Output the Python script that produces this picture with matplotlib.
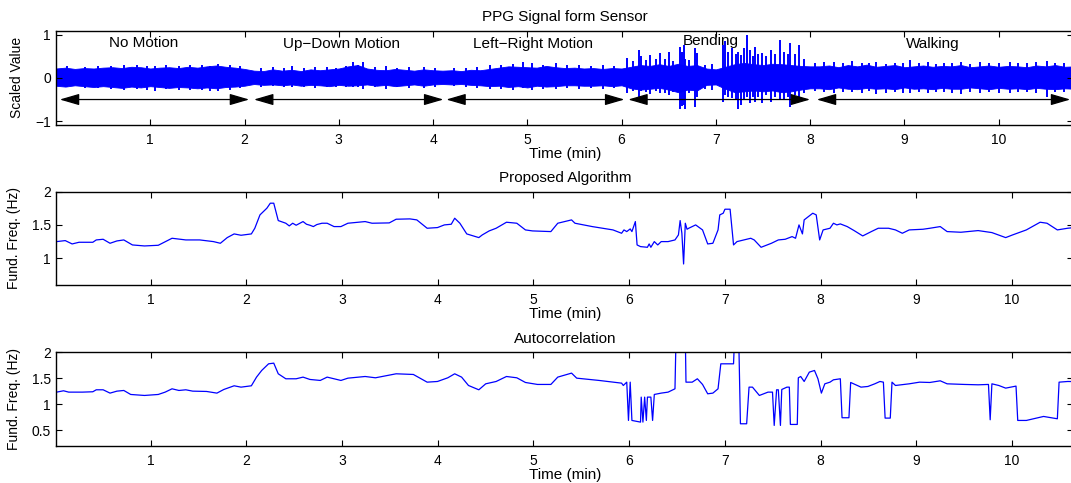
import numpy as np
import matplotlib
matplotlib.use("Agg")
import matplotlib.pyplot as plt
from matplotlib.ticker import FuncFormatter

plt.rcParams["font.family"] = ["Liberation Sans", "DejaVu Sans"]

LINE_BLUE = "#0000ff"

# ---- PPG raw signal: envelope read every 0.1 min (0.0 .. 10.8) ----
ppg_env_t = np.round(np.arange(0, 10.81, 0.1), 2)
ppg_hi = [0.22, 0.24, 0.21, 0.23, 0.22, 0.24, 0.25, 0.23, 0.26, 0.25, 0.22, 0.24, 0.25, 0.23, 0.26, 0.24, 0.27, 0.29, 0.26, 0.24, 0.21,
          0.17, 0.16, 0.20, 0.17, 0.19, 0.16, 0.20, 0.18, 0.20, 0.22, 0.27, 0.30, 0.22, 0.19, 0.18, 0.21, 0.19, 0.17, 0.20, 0.18,
          0.17, 0.18, 0.16, 0.19, 0.18, 0.21, 0.24, 0.27, 0.26, 0.25, 0.24, 0.28, 0.25, 0.23, 0.24, 0.22, 0.23, 0.21, 0.23, 0.22,
          0.26, 0.30, 0.28, 0.32, 0.28, 0.33, 0.28, 0.30, 0.22, 0.20, 0.26, 0.32, 0.35, 0.32, 0.30, 0.33, 0.32, 0.30, 0.28, 0.27,
          0.27, 0.29, 0.25, 0.30, 0.27, 0.31, 0.26, 0.28, 0.30, 0.25, 0.27, 0.29, 0.26, 0.28, 0.27, 0.30, 0.25, 0.27, 0.29, 0.26,
          0.28, 0.27, 0.25, 0.29, 0.27, 0.30, 0.26, 0.27]
ppg_lo = [-0.18, -0.20, -0.17, -0.19, -0.21, -0.19, -0.21, -0.23, -0.20, -0.22, -0.19, -0.21, -0.23, -0.21, -0.22, -0.24, -0.22, -0.24, -0.21, -0.20, -0.18,
          -0.14, -0.16, -0.15, -0.17, -0.15, -0.18, -0.16, -0.17, -0.19, -0.16, -0.18, -0.17, -0.15, -0.18, -0.16, -0.19, -0.17, -0.15, -0.18, -0.15,
          -0.14, -0.15, -0.14, -0.16, -0.17, -0.19, -0.18, -0.21, -0.19, -0.22, -0.18, -0.20, -0.19, -0.17, -0.17, -0.18, -0.18, -0.17, -0.19, -0.17,
          -0.24, -0.27, -0.25, -0.23, -0.27, -0.33, -0.27, -0.29, -0.16, -0.15, -0.25, -0.33, -0.31, -0.29, -0.31, -0.29, -0.33, -0.31, -0.27, -0.24,
          -0.24, -0.26, -0.22, -0.25, -0.26, -0.23, -0.25, -0.24, -0.26, -0.22, -0.25, -0.24, -0.26, -0.23, -0.25, -0.25, -0.22, -0.24, -0.26, -0.23,
          -0.25, -0.24, -0.26, -0.23, -0.25, -0.26, -0.24, -0.25]

# isolated spikes (time, top, bottom)
ppg_spikes = [
    (0.12, 0.27, -0.22), (0.31, 0.26, -0.24), (0.45, 0.28, -0.23), (0.58, 0.27, -0.26), (0.72, 0.30, -0.27),
    (0.86, 0.29, -0.25), (0.97, 0.27, -0.27), (1.05, 0.28, -0.30), (1.17, 0.29, -0.26), (1.30, 0.27, -0.29),
    (1.42, 0.29, -0.27), (1.55, 0.30, -0.28), (1.63, 0.28, -0.30), (1.72, 0.33, -0.30), (1.85, 0.31, -0.27),
    (1.95, 0.27, -0.24), (2.18, 0.22, -0.20), (2.30, 0.25, -0.19), (2.42, 0.23, -0.22), (2.50, 0.27, -0.22),
    (2.63, 0.24, -0.21), (2.75, 0.26, -0.23), (2.88, 0.25, -0.21), (2.97, 0.24, -0.22), (3.08, 0.28, -0.20),
    (3.15, 0.36, -0.22), (3.20, 0.30, -0.20), (3.26, 0.38, -0.25), (3.38, 0.25, -0.22), (3.50, 0.27, -0.25),
    (3.62, 0.24, -0.21), (3.74, 0.25, -0.23), (3.90, 0.26, -0.24), (4.02, 0.23, -0.20), (4.22, 0.23, -0.19),
    (4.35, 0.24, -0.21), (4.47, 0.26, -0.23), (4.60, 0.31, -0.25), (4.72, 0.30, -0.26), (4.85, 0.33, -0.28),
    (4.95, 0.36, -0.24), (5.05, 0.34, -0.27), (5.17, 0.31, -0.25), (5.30, 0.35, -0.26), (5.42, 0.31, -0.24),
    (5.55, 0.30, -0.26), (5.68, 0.28, -0.23), (5.80, 0.29, -0.25), (5.92, 0.27, -0.24),
    (6.06, 0.46, -0.35), (6.12, 0.40, -0.30), (6.18, 0.65, -0.43), (6.21, 0.50, -0.30), (6.26, 0.42, -0.33),
    (6.30, 0.53, -0.38), (6.36, 0.45, -0.30), (6.41, 0.57, -0.35), (6.46, 0.44, -0.36), (6.50, 0.61, -0.40),
    (6.55, 0.40, -0.32), (6.62, 0.73, -0.71), (6.64, 0.60, -0.66), (6.66, 0.77, -0.62), (6.67, 0.45, -0.71),
    (6.72, 0.42, -0.35), (6.78, 0.69, -0.67), (6.80, 0.57, -0.45), (6.88, 0.30, -0.25), (6.96, 0.33, -0.27),
    (7.08, 0.77, -0.55), (7.10, 0.85, -0.40), (7.13, 0.60, -0.45), (7.17, 0.69, -0.47), (7.21, 0.55, -0.50),
    (7.24, 0.61, -0.71), (7.27, 0.53, -0.63), (7.30, 0.70, -0.50), (7.33, 1.00, -0.45), (7.36, 0.65, -0.59),
    (7.39, 0.50, -0.45), (7.42, 0.73, -0.55), (7.45, 0.55, -0.45), (7.49, 0.57, -0.59), (7.53, 0.50, -0.40),
    (7.58, 0.65, -0.55), (7.63, 0.55, -0.45), (7.68, 0.88, -0.51), (7.72, 0.60, -0.50), (7.76, 0.55, -0.45),
    (7.79, 0.81, -0.67), (7.84, 0.55, -0.40), (7.88, 0.77, -0.47), (7.94, 0.45, -0.35),
    (8.05, 0.35, -0.30), (8.15, 0.36, -0.33), (8.25, 0.38, -0.35), (8.35, 0.34, -0.32), (8.44, 0.40, -0.33),
    (8.55, 0.35, -0.34), (8.62, 0.34, -0.31), (8.70, 0.36, -0.38), (8.80, 0.33, -0.34), (8.90, 0.35, -0.32),
    (8.98, 0.34, -0.35), (9.06, 0.42, -0.34), (9.15, 0.34, -0.32), (9.25, 0.37, -0.36), (9.33, 0.33, -0.33),
    (9.42, 0.35, -0.33), (9.50, 0.34, -0.35), (9.60, 0.36, -0.37), (9.70, 0.33, -0.32), (9.80, 0.37, -0.34),
    (9.90, 0.34, -0.33), (10.00, 0.35, -0.35), (10.12, 0.38, -0.36), (10.20, 0.34, -0.32), (10.30, 0.34, -0.33),
    (10.40, 0.36, -0.34), (10.51, 0.40, -0.43), (10.60, 0.35, -0.33), (10.69, 0.35, -0.32),
]

activity_names = ["No Motion", "Up\u2212Down Motion", "Left\u2212Right Motion", "Bending", "Walking"]
activity_label_t = [0.93, 3.03, 5.06, 6.95, 9.30]
activity_label_y = [0.81, 0.78, 0.80, 0.86, 0.78]
activity_start = [0.04, 2.10, 4.14, 6.07, 8.07]
activity_end = [2.05, 4.11, 6.03, 8.00, 10.76]
arrow_level = -0.5

# ---- fundamental frequency, proposed algorithm (time min, Hz) ----
proposed = [
    (0.017, 1.25), (0.107, 1.265), (0.179, 1.215), (0.251, 1.24), (0.395, 1.24), (0.431, 1.275), (0.503, 1.285),
    (0.575, 1.225), (0.647, 1.26), (0.719, 1.275), (0.809, 1.20), (0.935, 1.185), (1.079, 1.195), (1.187, 1.275),
    (1.223, 1.30), (1.367, 1.275), (1.512, 1.275), (1.656, 1.25), (1.728, 1.225), (1.800, 1.31), (1.872, 1.365),
    (1.944, 1.345), (2.052, 1.365), (2.088, 1.45), (2.142, 1.65), (2.214, 1.75), (2.250, 1.825), (2.286, 1.825),
    (2.333, 1.565), (2.412, 1.525), (2.448, 1.485), (2.484, 1.525), (2.520, 1.495), (2.592, 1.55), (2.628, 1.51),
    (2.664, 1.495), (2.700, 1.475), (2.736, 1.505), (2.790, 1.525), (2.844, 1.525), (2.916, 1.475), (2.988, 1.475),
    (3.061, 1.525), (3.241, 1.55), (3.313, 1.525), (3.493, 1.53), (3.565, 1.585), (3.709, 1.59), (3.781, 1.575),
    (3.889, 1.45), (3.997, 1.46), (4.069, 1.50), (4.141, 1.51), (4.177, 1.60), (4.231, 1.525), (4.303, 1.365),
    (4.429, 1.31), (4.465, 1.35), (4.537, 1.41), (4.610, 1.45), (4.718, 1.54), (4.826, 1.525), (4.916, 1.425),
    (4.990, 1.41), (5.182, 1.40), (5.254, 1.525), (5.398, 1.575), (5.434, 1.525), (5.614, 1.475), (5.831, 1.425),
    (5.921, 1.375), (5.946, 1.425), (5.975, 1.40), (6.011, 1.44), (6.029, 1.40), (6.065, 1.55), (6.083, 1.20),
    (6.119, 1.175), (6.191, 1.165), (6.209, 1.215), (6.227, 1.165), (6.263, 1.25), (6.299, 1.20), (6.335, 1.25),
    (6.407, 1.25), (6.479, 1.275), (6.515, 1.35), (6.533, 1.565), (6.551, 1.375), (6.569, 0.915), (6.587, 1.525),
    (6.605, 1.435), (6.623, 1.45), (6.695, 1.50), (6.767, 1.425), (6.821, 1.215), (6.875, 1.225), (6.929, 1.425),
    (6.947, 1.65), (6.983, 1.675), (7.001, 1.735), (7.055, 1.735), (7.091, 1.20), (7.127, 1.25), (7.199, 1.275),
    (7.271, 1.30), (7.307, 1.275), (7.379, 1.165), (7.487, 1.225), (7.559, 1.275), (7.631, 1.285), (7.703, 1.325),
    (7.739, 1.30), (7.775, 1.50), (7.811, 1.365), (7.829, 1.575), (7.919, 1.675), (7.955, 1.65), (7.991, 1.275),
    (8.027, 1.425), (8.099, 1.45), (8.135, 1.525), (8.171, 1.50), (8.207, 1.515), (8.279, 1.475), (8.351, 1.415),
    (8.441, 1.335), (8.531, 1.40), (8.603, 1.45), (8.711, 1.45), (8.783, 1.425), (8.855, 1.375), (8.927, 1.425),
    (9.071, 1.435), (9.143, 1.45), (9.251, 1.475), (9.323, 1.40), (9.467, 1.39), (9.647, 1.415), (9.791, 1.385),
    (9.935, 1.31), (10.007, 1.35), (10.151, 1.425), (10.295, 1.54), (10.367, 1.525), (10.475, 1.425), (10.583, 1.45),
    (10.65, 1.46),
]

# ---- fundamental frequency, autocorrelation (values above 2 Hz run off the axes) ----
autocorr = [
    (0.017, 1.237), (0.089, 1.263), (0.143, 1.237), (0.287, 1.237), (0.395, 1.244), (0.431, 1.282), (0.503, 1.282),
    (0.575, 1.218), (0.647, 1.256), (0.719, 1.269), (0.791, 1.192), (0.935, 1.173), (1.079, 1.192), (1.151, 1.237),
    (1.223, 1.301), (1.295, 1.269), (1.367, 1.282), (1.439, 1.256), (1.584, 1.25), (1.692, 1.218), (1.764, 1.288),
    (1.872, 1.359), (1.944, 1.333), (2.052, 1.359), (2.106, 1.526), (2.160, 1.654), (2.232, 1.782), (2.286, 1.795),
    (2.333, 1.59), (2.412, 1.494), (2.520, 1.494), (2.592, 1.526), (2.664, 1.481), (2.772, 1.462), (2.844, 1.526),
    (2.988, 1.462), (3.061, 1.506), (3.241, 1.538), (3.349, 1.513), (3.565, 1.59), (3.745, 1.577), (3.889, 1.429),
    (3.997, 1.442), (4.105, 1.513), (4.177, 1.59), (4.249, 1.526), (4.321, 1.365), (4.429, 1.282), (4.501, 1.397),
    (4.610, 1.442), (4.718, 1.538), (4.826, 1.513), (4.916, 1.423), (5.042, 1.385), (5.182, 1.385), (5.254, 1.526),
    (5.398, 1.603), (5.452, 1.506), (5.686, 1.462), (5.921, 1.41), (5.939, 1.365), (5.975, 1.429), (5.993, 0.692),
    (6.011, 1.429), (6.029, 0.692), (6.119, 0.66), (6.126, 1.141), (6.144, 0.66), (6.162, 1.141), (6.180, 0.692),
    (6.191, 1.141), (6.227, 1.141), (6.245, 0.692), (6.263, 1.192), (6.335, 1.218), (6.407, 1.237), (6.479, 1.301),
    (6.490, 2.3), (6.587, 2.3), (6.594, 1.429), (6.659, 1.429), (6.713, 1.494), (6.767, 1.385), (6.821, 1.205),
    (6.875, 1.218), (6.929, 1.301), (6.958, 1.782), (7.091, 1.782), (7.102, 2.3), (7.145, 2.3), (7.163, 0.628),
    (7.228, 0.628), (7.253, 1.333), (7.289, 1.333), (7.361, 1.173), (7.451, 1.237), (7.498, 1.237), (7.516, 0.596),
    (7.541, 1.282), (7.559, 1.282), (7.581, 0.596), (7.595, 1.288), (7.649, 1.333), (7.674, 1.333), (7.685, 0.615),
    (7.757, 0.615), (7.768, 1.513), (7.793, 1.538), (7.829, 1.442), (7.883, 1.622), (7.937, 1.654), (7.973, 1.494),
    (8.009, 1.218), (8.045, 1.397), (8.099, 1.429), (8.135, 1.474), (8.207, 1.494), (8.225, 0.744), (8.297, 0.744),
    (8.315, 1.423), (8.423, 1.333), (8.495, 1.346), (8.567, 1.397), (8.621, 1.442), (8.657, 1.429), (8.675, 0.737),
    (8.729, 0.737), (8.747, 1.429), (8.783, 1.365), (8.927, 1.397), (9.035, 1.429), (9.143, 1.423), (9.251, 1.455),
    (9.323, 1.397), (9.503, 1.385), (9.647, 1.378), (9.755, 1.385), (9.773, 0.705), (9.791, 1.397), (9.863, 1.365),
    (9.935, 1.314), (10.043, 1.353), (10.061, 0.692), (10.151, 0.692), (10.331, 0.769), (10.475, 0.724), (10.493, 1.429),
    (10.583, 1.442), (10.65, 1.44),
]

time_ticks = [1, 2, 3, 4, 5, 6, 7, 8, 9, 10]

# MATLAB-style tick text: "1.5", "2", "\u22121"
tick_fmt = FuncFormatter(lambda v, pos: f"{v:g}".replace("-", "\u2212"))


def style_axis(ax, title, ylabel, xlim, ylim, yticks, ylabel_x):
    ax.set_xlim(*xlim)
    ax.set_ylim(*ylim)
    ax.set_xticks(time_ticks)
    ax.set_yticks(yticks)
    ax.yaxis.set_major_formatter(tick_fmt)
    ax.tick_params(direction="in", length=4, width=0.8, labelsize=10, top=True, right=True, pad=6)
    ax.tick_params(axis="y", pad=4)
    for spine in ax.spines.values():
        spine.set_linewidth(1.0)
    ax.set_title(title, fontsize=11, pad=7)
    ax.set_xlabel("Time (min)", fontsize=11, labelpad=0)
    ax.set_ylabel(ylabel, fontsize=10)
    ax.yaxis.set_label_coords(ylabel_x, 0.5)


fig = plt.figure(figsize=(10.71, 4.83), dpi=100)
left, width, height = 0.0527, 0.9493, 0.1936
ax1 = fig.add_axes([left, 0.7422, width, height])
ax2 = fig.add_axes([left, 0.4099, width, height])
ax3 = fig.add_axes([left, 0.0766, width, height])

# top: raw PPG
ax1.fill_between(ppg_env_t, ppg_lo, ppg_hi, color=LINE_BLUE, lw=0.6)
sp_t, sp_hi, sp_lo = zip(*ppg_spikes)
ax1.vlines(sp_t, sp_lo, sp_hi, color=LINE_BLUE, lw=1.4)
for s, e in zip(activity_start, activity_end):
    ax1.annotate("", xy=(e, arrow_level), xytext=(s, arrow_level),
                 arrowprops=dict(arrowstyle="<|-|>,head_length=1.2,head_width=0.35",
                                 color="black", lw=0.9, shrinkA=0, shrinkB=0))
for name, t, y in zip(activity_names, activity_label_t, activity_label_y):
    ax1.text(t, y, name, fontsize=11, ha="center", va="center")
style_axis(ax1, "PPG Signal form Sensor", "Scaled Value", (0.005, 10.79), (-1.08, 1.09), [-1, 0, 1], -0.032)

# middle: proposed algorithm
pt, pv = zip(*proposed)
ax2.plot(pt, pv, color=LINE_BLUE, lw=0.9)
style_axis(ax2, "Proposed Algorithm", "Fund. Freq. (Hz)", (0.015, 10.64), (0.6, 2.0), [1, 1.5, 2], -0.035)

# bottom: autocorrelation
at, av = zip(*autocorr)
ax3.plot(at, av, color=LINE_BLUE, lw=0.9)
style_axis(ax3, "Autocorrelation", "Fund. Freq. (Hz)", (0.015, 10.64), (0.2, 2.0), [0.5, 1, 1.5, 2], -0.035)

fig.savefig("out.png", dpi=100)
